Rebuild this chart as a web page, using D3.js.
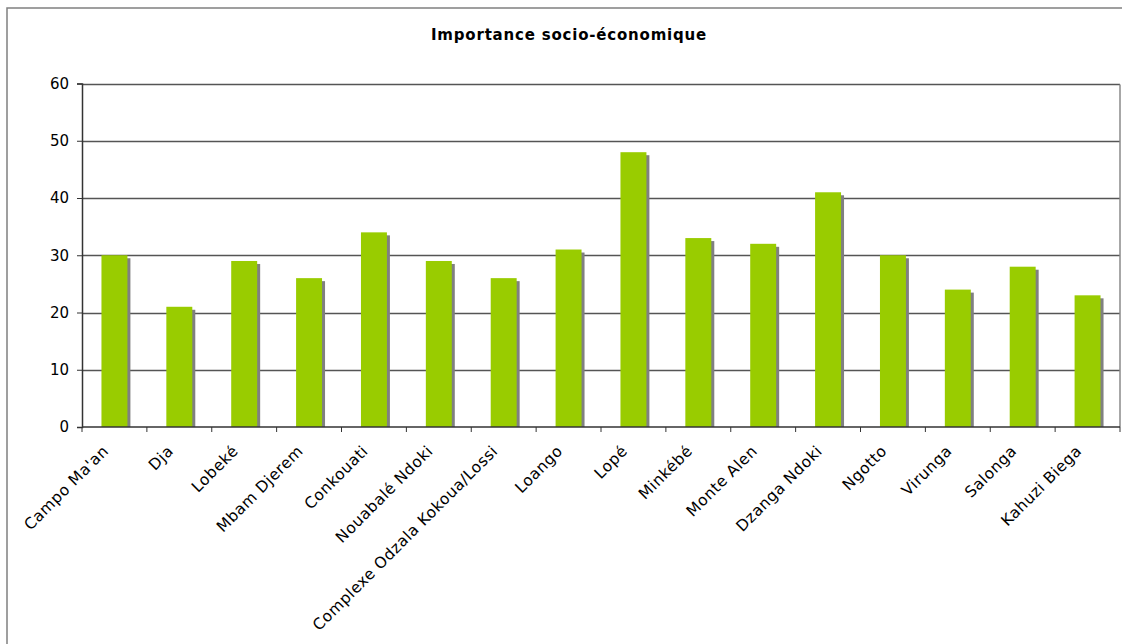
<!DOCTYPE html>
<html>
<head>
<meta charset="utf-8">
<script src="https://cdn.jsdelivr.net/npm/d3@7"></script>
<style>
  html, body { margin: 0; padding: 0; background: #fff; }
  svg { display: block; }
  text { font-family: "DejaVu Sans", Verdana, sans-serif; fill: #000; }
</style>
</head>
<body>
<svg id="chart" width="1122" height="644"></svg>
<script>
const title = "Importance socio-économique";
const categories = ["Campo Ma'an", "Dja", "Lobeké", "Mbam Djerem", "Conkouati", "Nouabalé Ndoki",
  "Complexe Odzala Kokoua/Lossi", "Loango", "Lopé", "Minkébé", "Monte Alen", "Dzanga Ndoki",
  "Ngotto", "Virunga", "Salonga", "Kahuzi Biega"];
const values = [30, 21, 29, 26, 34, 29, 26, 31, 48, 33, 32, 41, 30, 24, 28, 23];
const yTicks = [0, 10, 20, 30, 40, 50, 60];

const svg = d3.select("#chart");
const plot = { left: 82, right: 1120, top: 83.5, bottom: 427 };

// outer frame
svg.append("rect")
  .attr("x", 7).attr("y", 8).attr("width", 1130).attr("height", 660)
  .attr("fill", "#fff").attr("stroke", "#808080").attr("stroke-width", 1.5);

svg.append("text")
  .attr("x", 569).attr("y", 40)
  .attr("text-anchor", "middle")
  .style("font-size", "15px").style("font-weight", "bold")
  .style("letter-spacing", "0.8px")
  .text(title);

const x = d3.scaleBand().domain(categories)
  .range([plot.left, plot.right]).paddingInner(0.6).paddingOuter(0.3);
const xEdge = d3.scaleLinear().domain([0, categories.length]).range([plot.left, plot.right]);
const y = d3.scaleLinear().domain([0, 60]).range([plot.bottom, plot.top]);

// gridlines
svg.append("g").selectAll("line").data(yTicks.filter(d => d > 0)).join("line")
  .attr("x1", plot.left).attr("x2", plot.right)
  .attr("y1", d => Math.round(y(d)) + 0.5).attr("y2", d => Math.round(y(d)) + 0.5)
  .attr("stroke", "#555").attr("stroke-width", 1.3);

// right plot border
svg.append("line")
  .attr("x1", plot.right).attr("x2", plot.right)
  .attr("y1", Math.round(y(60)) + 0.5).attr("y2", plot.bottom)
  .attr("stroke", "#8a8a8a").attr("stroke-width", 1.5);

// shadows
svg.append("g").selectAll("rect").data(values).join("rect")
  .attr("x", (d, i) => x(categories[i]) + 3)
  .attr("y", d => y(d) + 3)
  .attr("width", x.bandwidth())
  .attr("height", d => plot.bottom - y(d) - 3)
  .attr("fill", "#808080");

// bars
svg.append("g").selectAll("rect").data(values).join("rect")
  .attr("x", (d, i) => x(categories[i]))
  .attr("y", d => y(d))
  .attr("width", x.bandwidth())
  .attr("height", d => plot.bottom - y(d))
  .attr("fill", "#99CC00");

// y axis
const yAxis = d3.axisLeft(y).tickValues(yTicks).tickSize(5).tickPadding(8);
const gy = svg.append("g").attr("transform", `translate(${plot.left},0)`).call(yAxis);
gy.select(".domain").attr("stroke", "#333").attr("stroke-width", 1.5);
gy.selectAll(".tick line").attr("stroke", "#333");
gy.selectAll(".tick text").style("font-size", "15px").style("font-family", "DejaVu Sans, Verdana, sans-serif").attr("fill", "#000");

// x axis
const gx = svg.append("g");
gx.append("line")
  .attr("x1", plot.left).attr("x2", plot.right)
  .attr("y1", plot.bottom).attr("y2", plot.bottom)
  .attr("stroke", "#333").attr("stroke-width", 1.5);
gx.selectAll("line.tk").data(d3.range(categories.length + 1)).join("line")
  .attr("class", "tk")
  .attr("x1", d => xEdge(d)).attr("x2", d => xEdge(d))
  .attr("y1", plot.bottom).attr("y2", plot.bottom + 5)
  .attr("stroke", "#333");
gx.selectAll("text").data(categories).join("text")
  .attr("transform", d => `translate(${x(d) + x.bandwidth() / 2 - 5},${plot.bottom + 25}) rotate(-45)`)
  .attr("text-anchor", "end")
  .style("font-size", "15.5px")
  .style("letter-spacing", "0.5px")
  .text(d => d);
</script>
</body>
</html>
